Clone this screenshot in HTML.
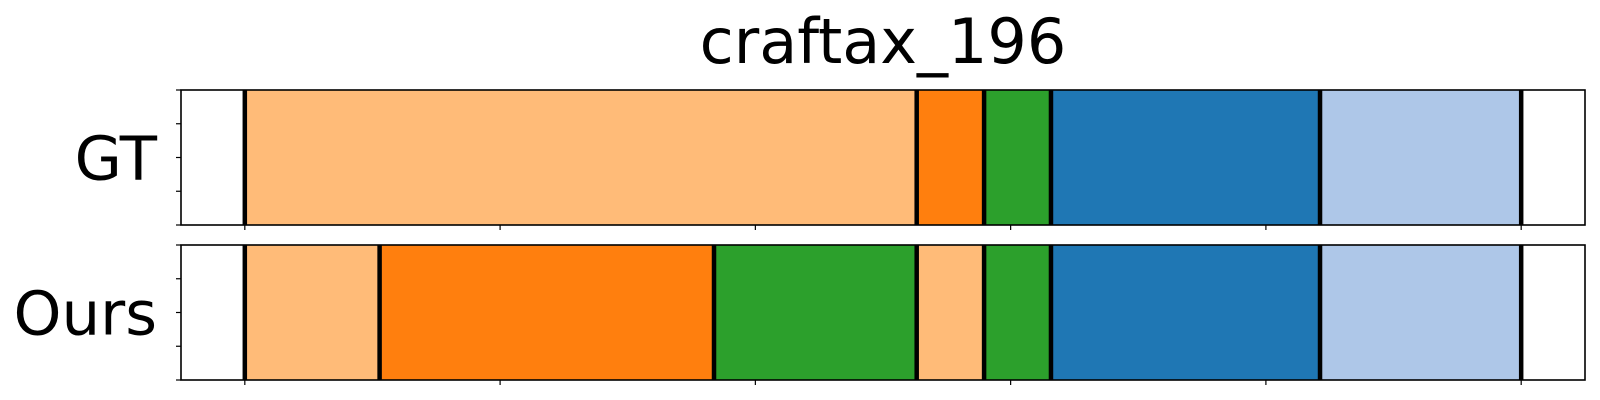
<!DOCTYPE html>
<html><head><meta charset="utf-8"><style>
html,body{margin:0;padding:0;background:#fff;}
svg{display:block;font-family:"DejaVu Sans","Liberation Sans",sans-serif;}
</style></head><body>
<svg id="chart" width="1600" height="400" viewBox="0 0 1600 400" xmlns="http://www.w3.org/2000/svg">
<text x="883" y="63" font-size="62" text-anchor="middle">craftax_196</text>
</svg>
<script>
const rowLabels = ["GT", "Ours"];
const gtBounds = [0, 131.6, 144.8, 157.9, 210.6, 250];
const gtColors = ["#ffbb78", "#ff7f0e", "#2ca02c", "#1f77b4", "#aec7e8"];
const oursBounds = [0, 26.4, 91.9, 131.6, 144.8, 157.9, 210.6, 250];
const oursColors = ["#ffbb78", "#ff7f0e", "#2ca02c", "#ffbb78", "#2ca02c", "#1f77b4", "#aec7e8"];
const xTicks = [0, 50, 100, 150, 200, 250];

const NS = "http://www.w3.org/2000/svg";
const svg = document.getElementById("chart");
const xMin = -12.5, xMax = 262.5, L = 181, R = 1585;
const xs = v => L + (v - xMin) / (xMax - xMin) * (R - L);
const panels = [{top: 90, bot: 225, b: gtBounds, c: gtColors}, {top: 245, bot: 380, b: oursBounds, c: oursColors}];
function mk(tag, attrs) { const e = document.createElementNS(NS, tag); for (const k in attrs) e.setAttribute(k, attrs[k]); svg.appendChild(e); return e; }

panels.forEach((p, pi) => {
  for (let i = 0; i < p.c.length; i++) {
    const r = mk("rect", {x: xs(p.b[i]), y: p.top, width: xs(p.b[i + 1]) - xs(p.b[i]), height: p.bot - p.top, fill: p.c[i]});
    
    
  }
  p.b.forEach(v => {
    const l = mk("line", {x1: xs(v), x2: xs(v), y1: p.top, y2: p.bot, stroke: "#000", "stroke-width": 4.5});
    
    
  });
  const f = mk("rect", {x: L, y: p.top, width: R - L, height: p.bot - p.top, fill: "none", stroke: "#000", "stroke-width": 1.6});
  
  
  for (let k = 0; k <= 4; k++) {
    const y = p.top + k * (p.bot - p.top) / 4;
    const t = mk("line", {x1: L - 5, x2: L, y1: y, y2: y, stroke: "#000", "stroke-width": 1.2});
    
    
  }
  xTicks.forEach(v => {
    const t = mk("line", {x1: xs(v), x2: xs(v), y1: p.bot, y2: p.bot + 5, stroke: "#000", "stroke-width": 1.2});
    
    
  });
  const lab = mk("text", {x: 157, y: (p.top + p.bot) / 2 + 22, "font-size": 61, "text-anchor": "end"});
  lab.textContent = rowLabels[pi];
  
  
});
</script>
</body></html>
